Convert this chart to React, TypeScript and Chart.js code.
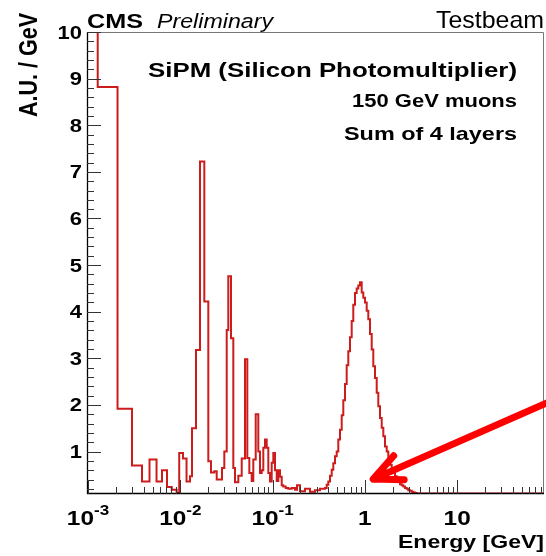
import React, { useEffect, useRef } from 'react';
import { Chart, registerables } from 'chart.js';

Chart.register(...registerables);

// ---- Data: histogram bins (low edge in GeV) and contents (A.U. / GeV) ----
const binLowEdges = [
  0.000975, 0.001274, 0.002088, 0.002997, 0.003846, 0.004638, 0.005526, 0.006333, 0.007175, 0.008069,
  0.00914, 0.00973, 0.0107, 0.01168, 0.01274, 0.01339, 0.01479, 0.01635, 0.0182, 0.02011,
  0.02151, 0.02336, 0.0248, 0.02692, 0.0283, 0.02998, 0.03182, 0.03311, 0.03543, 0.03752,
  0.03914, 0.0425, 0.04627, 0.05023, 0.05321, 0.05594, 0.05937, 0.06178, 0.0656, 0.07,
  0.07304, 0.07619, 0.07929, 0.08275, 0.08633, 0.08984, 0.09373, 0.09777, 0.1018, 0.1062,
  0.1108, 0.1153, 0.1203, 0.1255, 0.1306, 0.1387, 0.148, 0.161, 0.1748, 0.1838,
  0.1981, 0.2244, 0.2542, 0.288, 0.3263, 0.3696, 0.3855, 0.4013, 0.4187, 0.4368,
  0.4546, 0.4744, 0.4949, 0.515, 0.5373, 0.5606, 0.5834, 0.6086, 0.635, 0.6608,
  0.6894, 0.7194, 0.7486, 0.781, 0.8149, 0.8482, 0.8849, 0.9233, 0.9609, 1.0025,
  1.0459, 1.0886, 1.1358, 1.185, 1.2332, 1.2866, 1.3424, 1.3973, 1.4578, 1.5209,
  1.583, 1.6515, 1.7231, 1.7931, 1.8709, 1.9519, 2.0313, 2.1193, 2.211, 2.301,
  2.4008, 2.5048, 2.6062, 2.7192, 2.837, 2.9527, 3.0806, 3.2139, 3.3452, 3.4898,
  3.6407,
];
const binValues = [
  14, 8.82, 1.92, 0.7, 0.36, 0.83, 0.36, 0.6, 0.24, 0.18,
  0.11, 0.97, 0.85, 0.36, 0.47, 1.5, 3.18, 7.22, 4.22, 0.79,
  0.55, 0.58, 0.4, 0.4, 0.65, 1.0, 3.61, 4.76, 3.43, 0.65,
  0.34, 0.48, 0.85, 2.98, 0.86, 0.54, 0.37, 0.83, 1.8, 1.0,
  0.54, 0.6, 1.08, 1.26, 1.08, 0.54, 0.36, 0.76, 0.97, 0.6,
  0.37, 0.6, 0.46, 0.28, 0.25, 0.22, 0.2, 0.22, 0.18, 0.28,
  0.15, 0.2, 0.14, 0.17, 0.2, 0.22, 0.29, 0.36, 0.48, 0.61,
  0.75, 0.9, 1.0, 1.26, 1.47, 1.78, 2.1, 2.45, 2.85, 3.15,
  3.45, 3.8, 4.15, 4.4, 4.5, 4.56, 4.63, 4.41, 4.3, 4.2,
  4.02, 3.84, 3.52, 3.19, 2.83, 2.58, 2.26, 1.97, 1.72, 1.51,
  1.33, 1.11, 1.0, 0.83, 0.72, 0.65, 0.55, 0.47, 0.4, 0.36,
  0.3, 0.28, 0.25, 0.22, 0.2, 0.17, 0.16, 0.14, 0.12, 0.11,
  0.1,
];

// ---- Axes ----
const xMin = 0.000975;
const xMax = 87.2;
const yMin = 0.09;
const yMax = 10;
const yTickValues = [1, 2, 3, 4, 5, 6, 7, 8, 9, 10];
const yTickLabels = ['1', '2', '3', '4', '5', '6', '7', '8', '9', '10'];
const xTickValues = [0.001, 0.01, 0.1, 1, 10];
const xTickBases = ['10', '10', '10', '1', '10'];
const xTickExponents = ['-3', '-2', '-1', '', ''];
const xMinorMultipliers = [2, 3, 4, 5, 6, 7, 8, 9];

// ---- Annotation arrow (data coordinates) ----
const arrowTip = { x: 1.23, y: 0.41 };
const arrowTail = { x: 95, y: 2.05 };

const FONT = '"Liberation Sans", Arial, Helvetica, sans-serif';
const SX = 1.22;

function drawStretched(ctx: CanvasRenderingContext2D, text: string, x: number, y: number, font: string, sx: number, align: 'left' | 'right' | 'center') {
  ctx.save();
  ctx.font = font;
  const w = ctx.measureText(text).width;
  ctx.translate(x, y);
  ctx.scale(sx, 1);
  ctx.textAlign = 'left';
  ctx.textBaseline = 'alphabetic';
  const off = align === 'right' ? -w : align === 'center' ? -w / 2 : 0;
  ctx.fillText(text, off, 0);
  ctx.restore();
}

function drawFit(ctx: CanvasRenderingContext2D, text: string, x: number, y: number, font: string, width: number, align: 'left' | 'right') {
  ctx.save();
  ctx.font = font;
  const w = ctx.measureText(text).width;
  ctx.restore();
  drawStretched(ctx, text, x, y, font, width / w, align);
}

const decorPlugin = {
  id: 'rootDecor',
  afterDatasetsDraw(chart: any) {
    const ctx: CanvasRenderingContext2D = chart.ctx;
    const xs = chart.scales.x;
    const ys = chart.scales.y;
    const { left, right, top, bottom } = chart.chartArea;
    ctx.save();

    // frame (top / right)
    ctx.strokeStyle = '#777';
    ctx.lineWidth = 1;
    ctx.beginPath();
    ctx.moveTo(left, top + 0.5);
    ctx.lineTo(right - 0.5, top + 0.5);
    ctx.lineTo(right - 0.5, bottom);
    ctx.stroke();

    // axes (left / bottom)
    ctx.strokeStyle = '#000';
    ctx.lineWidth = 1.3;
    ctx.beginPath();
    ctx.moveTo(left + 0.5, top);
    ctx.lineTo(left + 0.5, bottom);
    ctx.moveTo(left, bottom - 0.5);
    ctx.lineTo(right, bottom - 0.5);
    ctx.stroke();

    // ticks
    ctx.strokeStyle = '#333';
    ctx.lineWidth = 1;
    ctx.beginPath();
    for (let v = 0.2; v < yMax + 0.001; v += 0.2) {
      const r = Math.round(v * 10) / 10;
      if (r < yMin) continue;
      const py = Math.round(ys.getPixelForValue(r)) + 0.5;
      const major = Math.abs(r - Math.round(r)) < 1e-6;
      ctx.moveTo(left, py);
      ctx.lineTo(left + (major ? 14 : 7), py);
    }
    xTickValues.forEach((d) => {
      const px = Math.round(xs.getPixelForValue(d)) + 0.5;
      if (d >= xMin) {
        ctx.moveTo(px, bottom);
        ctx.lineTo(px, bottom - 14);
      }
      xMinorMultipliers.forEach((m) => {
        const v = d * m;
        if (v > xMax || v < xMin) return;
        const p = Math.round(xs.getPixelForValue(v)) + 0.5;
        ctx.moveTo(p, bottom);
        ctx.lineTo(p, bottom - 7);
      });
    });
    ctx.stroke();

    // y tick labels
    ctx.fillStyle = '#000';
    yTickValues.forEach((v, i) => {
      const py = ys.getPixelForValue(v);
      drawStretched(ctx, yTickLabels[i], left - 5, py + 6.5, `bold 18px ${FONT}`, SX, 'right');
    });

    // x tick labels
    xTickValues.forEach((v, i) => {
      const px = xs.getPixelForValue(v);
      const base = xTickBases[i];
      const exp = xTickExponents[i];
      ctx.font = `bold 20px ${FONT}`;
      const wb = ctx.measureText(base).width * SX;
      ctx.font = `bold 14px ${FONT}`;
      const we = exp ? ctx.measureText(exp).width * SX : 0;
      const start = px - (wb + we) / 2;
      drawStretched(ctx, base, start, 525, `bold 20px ${FONT}`, SX, 'left');
      if (exp) drawStretched(ctx, exp, start + wb, 515, `bold 14px ${FONT}`, SX, 'left');
    });

    // axis titles
    drawFit(ctx, 'Energy [GeV]', right, 548, `bold 19px ${FONT}`, 146, 'right');
    ctx.save();
    ctx.translate(37, 13);
    ctx.rotate(-Math.PI / 2);
    ctx.scale(1, SX);
    ctx.font = `bold 21.5px ${FONT}`;
    ctx.textAlign = 'right';
    ctx.textBaseline = 'alphabetic';
    ctx.fillText('A.U. / GeV', 0, 0);
    ctx.restore();

    // header texts
    drawFit(ctx, 'CMS', left, 27.5, `bold 20px ${FONT}`, 56, 'left');
    drawFit(ctx, 'Preliminary', 157, 27.5, `italic 20px ${FONT}`, 116, 'left');
    drawFit(ctx, 'Testbeam', right, 27.5, `24px ${FONT}`, 108, 'right');

    // in-plot texts
    drawFit(ctx, 'SiPM (Silicon Photomultiplier)', 517, 77, `bold 21px ${FONT}`, 369, 'right');
    drawFit(ctx, '150 GeV muons', 517, 107, `bold 19px ${FONT}`, 165, 'right');
    drawFit(ctx, 'Sum of 4 layers', 517, 140, `bold 19px ${FONT}`, 173, 'right');

    // arrow
    const tx = xs.getPixelForValue(arrowTip.x);
    const ty = ys.getPixelForValue(arrowTip.y);
    const sx = xs.getPixelForValue(arrowTail.x);
    const sy = ys.getPixelForValue(arrowTail.y);
    const th = Math.atan2(sy - ty, sx - tx);
    const L = 31;
    const spread = (25 * Math.PI) / 180;
    ctx.strokeStyle = '#ff0000';
    ctx.lineWidth = 7;
    ctx.lineCap = 'round';
    ctx.lineJoin = 'round';
    ctx.beginPath();
    ctx.moveTo(sx, sy);
    ctx.lineTo(tx, ty);
    ctx.moveTo(tx + L * Math.cos(th - spread), ty + L * Math.sin(th - spread));
    ctx.lineTo(tx, ty);
    ctx.lineTo(tx + L * Math.cos(th + spread), ty + L * Math.sin(th + spread));
    ctx.stroke();

    ctx.restore();
  },
};

export default function App() {
  const canvasRef = useRef<HTMLCanvasElement | null>(null);

  useEffect(() => {
    if (!canvasRef.current) return;
    const points = [{ x: binLowEdges[0], y: 0 }];
    binLowEdges.forEach((e, i) => points.push({ x: e, y: binValues[i] }));
    points.push({ x: xMax, y: binValues[binValues.length - 1] });

    const chart = new Chart(canvasRef.current, {
      type: 'line',
      data: {
        datasets: [
          {
            data: points,
            stepped: true,
            borderColor: 'rgb(205, 28, 28)',
            borderWidth: 2,
            pointRadius: 0,
            fill: false,
            tension: 0,
          },
        ],
      },
      options: {
        animation: false,
        responsive: false,
        maintainAspectRatio: false,
        events: [],
        layout: { padding: { left: 87, top: 32, right: 2, bottom: 62 } },
        scales: {
          x: { type: 'logarithmic', min: xMin, max: xMax, display: false },
          y: { type: 'linear', min: yMin, max: yMax, display: false },
        },
        plugins: {
          legend: { display: false },
          tooltip: { enabled: false },
          title: { display: false },
        },
      },
      plugins: [decorPlugin],
    } as any);
    return () => chart.destroy();
  }, []);

  return (
    <div style={{ position: 'absolute', left: 0, top: 0, width: 546, height: 556, background: '#fff' }}>
      <canvas ref={canvasRef} width={546} height={556} style={{ display: 'block' }} />
    </div>
  );
}
